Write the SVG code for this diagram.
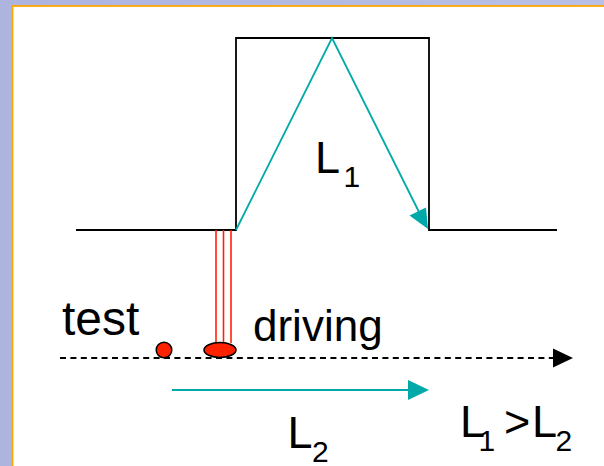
<svg xmlns="http://www.w3.org/2000/svg" width="604" height="466" viewBox="0 0 604 466">
<style>
.lbl{font-family:"Liberation Sans",Arial,sans-serif;font-size:45px;fill:#000}
.sub{font-size:30px}
.blk{fill:none;stroke:#000;stroke-width:1.8}
.teal{fill:none;stroke:#00a9a9;stroke-width:1.8}
.red{fill:none;stroke:#ff2200;stroke-width:1.6}
</style>
<defs>
<linearGradient id="bg" x1="0" y1="0" x2="1" y2="0">
<stop offset="0" stop-color="#adb5df"/>
<stop offset="1" stop-color="#b8c0e6"/>
</linearGradient>
</defs>
<rect x="0" y="0" width="604" height="466" fill="url(#bg)"/>
<rect x="12.5" y="6" width="600" height="470" fill="#fff" stroke="#ffa800" stroke-width="1.8"/>
<g id="connectors">
<path class="blk" d="M76,230 H236 V38 H429 V230 H557"/>
<path class="teal" d="M236,230 L332,38 L421,216"/>
<polygon points="428,229 409.5,215.5 426,207.5" fill="#00a9a9"/>
<line x1="216" y1="230" x2="216" y2="343" class="red"/>
<line x1="223.5" y1="230" x2="223.5" y2="343" class="red"/>
<line x1="231" y1="230" x2="231" y2="343" class="red"/>
<line x1="60" y1="358" x2="555" y2="358" stroke="#000" stroke-width="1.8" stroke-dasharray="6,4.4"/>
<polygon points="573,358 553,348.5 553,367.5" fill="#000"/>
<line x1="172" y1="390" x2="410" y2="390" class="teal"/>
<polygon points="429,390 408,380 408,400" fill="#00a9a9"/>
</g>
<g id="test-car">
<circle cx="164" cy="350" r="7.8" fill="#ff2200" stroke="#000" stroke-width="1.5"/>
</g>
<g id="driving-car">
<ellipse cx="220" cy="350" rx="16" ry="7.5" fill="#ff2200" stroke="#000" stroke-width="1.5"/>
</g>
<g id="labels">
<text class="lbl" x="62" y="335" style="font-size:48px">test</text>
<text class="lbl" x="253" y="341" style="font-size:44px">driving</text>
<text class="lbl" x="315" y="173">L<tspan class="sub" x="343.5" y="187">1</tspan></text>
<text class="lbl" x="287.5" y="448">L<tspan class="sub" x="312" y="462">2</tspan></text>
<text class="lbl" x="460" y="437">L<tspan class="sub" x="478.5" y="451">1</tspan></text>
<text class="lbl" x="504" y="437">&gt;</text>
<text class="lbl" x="532" y="437">L<tspan class="sub" x="555.5" y="451">2</tspan></text>
</g>
</svg>
